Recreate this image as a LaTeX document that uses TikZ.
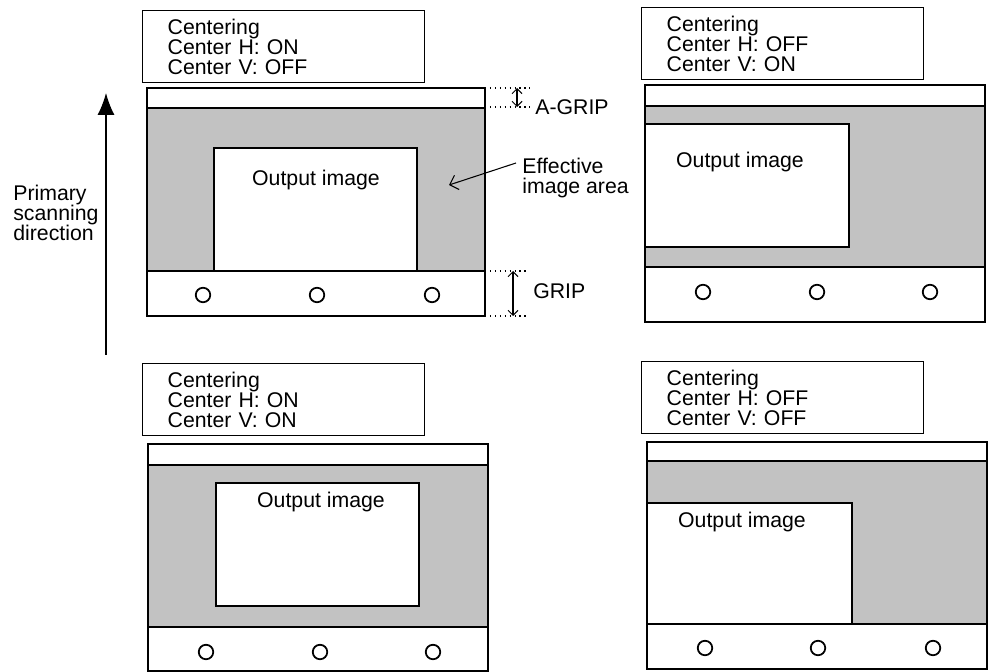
\documentclass[tikz,border=0pt]{standalone}
\usepackage{fontspec}
\setmainfont{Liberation Sans}
\usetikzlibrary{arrows.meta}
\usetikzlibrary{positioning}

\tikzset{
  frame/.style={draw=black,line width=1pt,fill=white},
  effarea/.style={draw=black,line width=1pt,fill=black!24},
  outbox/.style={draw=black,line width=1pt,fill=white},
  hole/.style={circle,draw=black,line width=1pt,minimum size=0.29cm,inner sep=0pt},
  labelbox/.style={draw=black,line width=0.8pt,anchor=north west,align=left,text width=4.64cm,inner xsep=0.5cm,minimum height=1.44cm,font=\fontsize{12.1}{11.4}\selectfont},
  txt/.style={font=\fontsize{12.1}{11.4}\selectfont,text=black},
  guide/.style={black,dotted,line width=0.8pt},
  dim/.style={{Straight Barb[length=1mm]}-{Straight Barb[length=1mm]},line width=0.6pt},
}

\begin{document}
\begin{tikzpicture}[x=0.02cm,y=-0.02cm]
\useasboundingbox (0,0) rectangle (991,672);

% scanning direction
\coordinate (scanfrom) at (106,355);
\coordinate (scanto) at (106,93);
\draw[-{Latex[length=0.44cm,width=0.34cm]},line width=0.7pt] (scanfrom) -- (scanto);
\node[txt,anchor=north west,align=left,inner sep=0pt] (scan) at (13,185) {Primary\\scanning\\direction};

% H: ON, V: OFF
\node[labelbox] (lab1) at (142,10) {Centering\\Center H: ON\\Center V: OFF};
\draw[frame] (147,88) rectangle (485,316);
\draw[effarea] (147,108) rectangle (485,271);
\draw[outbox] (214,148) rectangle (417,271);
\node[txt] (out1) at (316,180) {Output image};
\node[hole] (h11) at (203,295) {};
\node[hole] (h12) at (317,295) {};
\node[hole] (h13) at (432,295) {};

\draw[guide] (485,88) -- (530,88);
\draw[guide] (485,107) -- (530,107);
\coordinate (agtop) at (517,88);
\coordinate (agbot) at (517,107);
\draw[dim] (agtop) -- (agbot);
\node[txt,anchor=west,inner sep=0pt] (agrip) at (535,107) {A-GRIP};

\draw[guide] (485,271) -- (528,271);
\draw[guide] (485,316) -- (528,316);
\coordinate (gtop) at (513,271);
\coordinate (gbot) at (513,316);
\draw[dim] (gtop) -- (gbot);
\node[txt,anchor=west,inner sep=0pt] (grip) at (533,291) {GRIP};

\node[txt,anchor=north west,align=left,inner sep=0pt] (effective) at (522,158) {Effective\\image area};
\coordinate (effpt) at (449,185);
\draw[-{Straight Barb[length=1.5mm]},line width=0.6pt] ([shift={(-6,5)}]effective.north west) -- (effpt);

% H: OFF, V: ON
\node[labelbox] (lab2) at (641,7) {Centering\\Center H: OFF\\Center V: ON};
\draw[frame] (645,85) rectangle (985,322);
\draw[effarea] (645,106) rectangle (985,267);
\draw[outbox] (645,124) rectangle (849,247);
\node[txt] (out2) at (740,162) {Output image};
\node[hole] (h21) at (703,292) {};
\node[hole] (h22) at (817,292) {};
\node[hole] (h23) at (930,292) {};

% H: ON, V: ON
\node[labelbox] (lab3) at (142,363) {Centering\\Center H: ON\\Center V: ON};
\draw[frame] (148,444) rectangle (488,671);
\draw[effarea] (148,465) rectangle (488,627);
\draw[outbox] (216,483) rectangle (419,606);
\node[txt] (out3) at (321,502) {Output image};
\node[hole] (h31) at (206,652) {};
\node[hole] (h32) at (320,652) {};
\node[hole] (h33) at (433,652) {};

% H: OFF, V: OFF
\node[labelbox] (lab4) at (641,361) {Centering\\Center H: OFF\\Center V: OFF};
\draw[frame] (647,442) rectangle (987,669);
\draw[effarea] (647,461) rectangle (987,624);
\draw[outbox] (647,503) rectangle (852,624);
\node[txt] (out4) at (742,522) {Output image};
\node[hole] (h41) at (705,648) {};
\node[hole] (h42) at (818,648) {};
\node[hole] (h43) at (933,648) {};

\end{tikzpicture}
\end{document}
